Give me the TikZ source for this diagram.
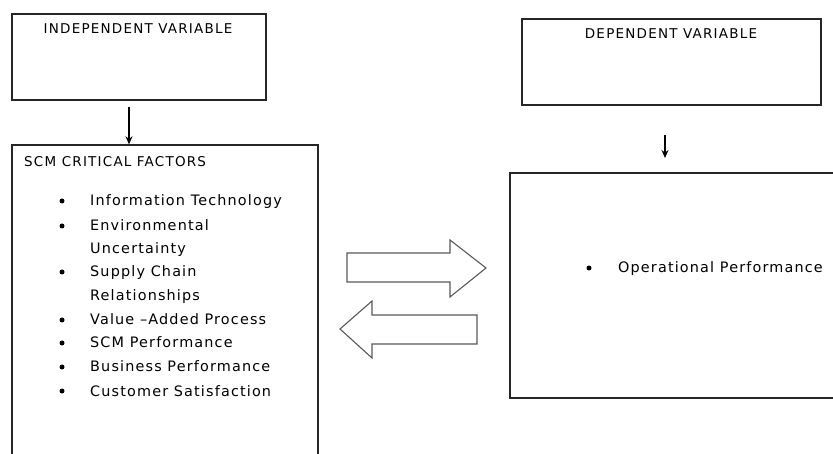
\documentclass[tikz,border=0pt]{standalone}
\usepackage{fontspec}
\setmainfont{DejaVu Sans}
\usetikzlibrary{arrows.meta}
\begin{document}
\begin{tikzpicture}[x=1pt,y=-1pt,
  frame/.style={draw=black!85,line width=1.3pt},
  label/.style={inner sep=0pt,anchor=base west,text=black,
    font=\fontsize{14.4}{16}\selectfont\addfontfeature{LetterSpace=8}},
  caps/.style={inner sep=0pt,anchor=base,text=black,
    font=\fontsize{13.5}{15}\selectfont\addfontfeature{LetterSpace=9}},
  dot/.style={circle,fill=black,inner sep=0pt,minimum size=5pt},
  flow/.style={-{Stealth[length=8pt,width=7pt]},line width=1.2pt,black},
  blockarrow/.style={draw=black!65,line width=1.1pt,fill=white}]
\useasboundingbox (0,0) rectangle (833,454);
\clip (0,0) rectangle (833,454);

% independent variable block
\node[frame,minimum width=254pt,minimum height=86pt,inner sep=0pt] (indep) at (139,57) {};
\node[caps] (indeplabel) at (138,34) {INDEPENDENT\ VARIABLE};

% SCM critical factors block (runs past the lower edge)
\node[frame,minimum width=306pt,minimum height=330pt,inner sep=0pt] (scm) at (165,310) {};
\node[caps,anchor=base west] (scmlabel) at (24,167) {SCM CRITICAL\ FACTORS};

\node[dot] (b1) at (62,201) {};
\node[label] (t1) at (90,206) {Information Technology};
\node[dot] (b2) at (62,226) {};
\node[label] (t2) at (90,231) {Environmental};
\node[label] (t2b) at (90,254) {Uncertainty};
\node[dot] (b3) at (62,272) {};
\node[label] (t3) at (90,277) {Supply Chain};
\node[label] (t3b) at (90,301) {Relationships};
\node[dot] (b4) at (62,320) {};
\node[label] (t4) at (90,325) {Value –Added Process};
\node[dot] (b5) at (62,343) {};
\node[label] (t5) at (90,348) {SCM Performance};
\node[dot] (b6) at (62,367) {};
\node[label] (t6) at (90,372) {Business Performance};
\node[dot] (b7) at (62,391) {};
\node[label] (t7) at (90,396) {Customer Satisfaction};

% dependent variable block
\node[frame,minimum width=299pt,minimum height=86pt,inner sep=0pt] (dep) at (671.5,62) {};
\node[caps] (deplabel) at (671,39) {DEPENDENT\ VARIABLE};

% operational performance block (runs past the right edge)
\node[frame,minimum width=340pt,minimum height=225pt,inner sep=0pt] (oper) at (680,285.5) {};
\node[dot] (ob) at (589,268) {};
\node[label] (ot) at (618,273) {Operational Performance};

% short downward arrows
\coordinate (a1) at (129,107);
\coordinate (a2) at (665,135);
\coordinate (a2e) at (665,158);
\draw[flow] (a1) -- (a1 |- scm.north);
\draw[flow] (a2) -- (a2e);

% two-way block arrows
\draw[blockarrow] (347,253) -- (450,253) -- (450,240) -- (486,268) -- (450,297)
  -- (450,282) -- (347,282) -- cycle;
\draw[blockarrow] (477,315) -- (372,315) -- (372,301) -- (340,329) -- (372,358)
  -- (372,344) -- (477,344) -- cycle;
\end{tikzpicture}
\end{document}
